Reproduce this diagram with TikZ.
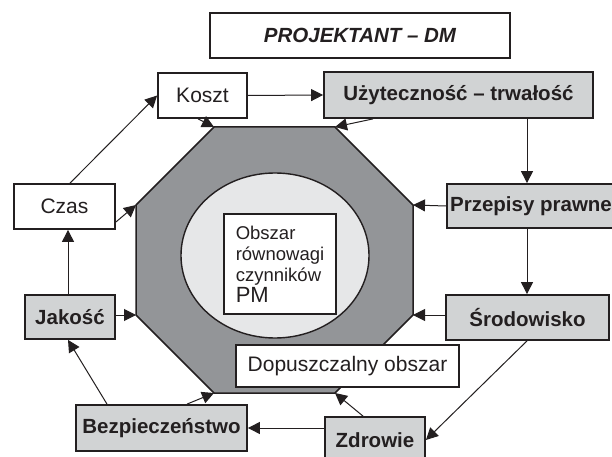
\documentclass[tikz,border=0pt]{standalone}
\usepackage{fontspec}
\setmainfont{Liberation Sans}
\usetikzlibrary{arrows.meta,shapes.geometric}
\definecolor{ink}{HTML}{231F20}
\definecolor{octgray}{HTML}{939598}
\definecolor{discgray}{HTML}{E6E7E8}
\definecolor{boxgray}{HTML}{D1D3D4}
\begin{document}
\begin{tikzpicture}[x=1bp,y=-1bp,
  every node/.style={font=\fontsize{21bp}{25bp}\selectfont, text=ink},
  plainbox/.style={draw=ink, line width=1.8bp, fill=white, inner sep=0pt},
  factorbox/.style={draw=ink, line width=1.8bp, fill=boxgray, inner sep=0pt,
    font=\fontsize{20.5bp}{24bp}\selectfont\bfseries},
  link/.style={draw=ink, line width=1bp, -{Triangle[length=12bp,width=12bp]}},
]
\useasboundingbox (0,0) rectangle (612,457);
\fill[white] (0,0) rectangle (612,457);

% octagon of the admissible region
\coordinate (o1) at (214,127);
\coordinate (o2) at (335,127);
\coordinate (o3) at (413,205);
\coordinate (o4) at (413,315);
\coordinate (o5) at (335,393);
\coordinate (o6) at (214,393);
\coordinate (o7) at (136,315);
\coordinate (o8) at (136,205);
\filldraw[fill=octgray, draw=ink, line width=1.5bp, line join=miter]
  (o1) -- (o2) -- (o3) -- (o4) -- (o5) -- (o6) -- (o7) -- (o8) -- cycle;

% equilibrium disc and its label
\node[ellipse, draw=ink, line width=1.4bp, fill=discgray,
  minimum width=188bp, minimum height=165bp] (disc) at (275,255.5) {};
\node[plainbox, minimum width=112bp, minimum height=100bp, align=left,
  font=\fontsize{18.5bp}{21bp}\selectfont] (eqbox) at (280,264)
  {Obszar\\równowagi\\czynników\\{\fontsize{22bp}{23bp}\selectfont PM}};

% title and factor boxes
\node[plainbox, minimum width=300bp, minimum height=45bp,
  font=\fontsize{20.5bp}{24bp}\selectfont\bfseries\itshape] (title) at (360,35.5)
  {PROJEKTANT – DM};
\node[plainbox, minimum width=89bp, minimum height=45bp] (koszt) at (202.5,95.5) {Koszt};
\node[factorbox, minimum width=269bp, minimum height=46bp] (uzy) at (458.5,95) {Użyteczność – trwałość};
\node[plainbox, minimum width=101bp, minimum height=45bp] (czas) at (64.5,206.5) {Czas};
\node[factorbox, minimum width=168bp, minimum height=44bp] (prz) at (531,206) {Przepisy prawne};
\node[factorbox, minimum width=90bp, minimum height=44bp] (jak) at (70,317) {Jakość};
\node[factorbox, minimum width=163bp, minimum height=45bp] (sro) at (527.5,317.5) {Środowisko};
\node[factorbox, minimum width=171bp, minimum height=46bp] (bez) at (161.5,428) {Bezpieczeństwo};
\node[factorbox, minimum width=100bp, minimum height=46bp] (zdr) at (375,440) {Zdrowie};
\node[plainbox, minimum width=223bp, minimum height=42bp] (dop) at (347.5,366) {Dopuszczalny obszar};

% anchor columns for the cycle connectors
\coordinate (colR) at (527,0);
\coordinate (colL) at (68,0);
\coordinate (kTail) at (198,0);
\coordinate (uTail) at (373,0);
\coordinate (cTop) at (70,0);
\coordinate (bTop) at (107,0);
\coordinate (bTail) at (187,0);
\coordinate (zTail) at (363,0);
\coordinate (cTail) at (0,222);

% cycle of factors
\draw[link] (koszt.east) -- (uzy.west);
\draw[link] (uzy.south -| colR) -- (prz.north -| colR);
\draw[link] (prz.south -| colR) -- (sro.north -| colR);
\draw[link] (sro.south -| colR) -- (zdr.east);
\draw[link] (zdr.west |- bez.east) -- (bez.east);
\draw[link] (bez.north -| bTop) -- (jak.south -| colL);
\draw[link] (jak.north -| colL) -- (czas.south -| colL);
\draw[link] (czas.north -| cTop) -- (koszt.west);

% every factor acts on the admissible region
\draw[link] (koszt.south -| kTail) -- (o1);
\draw[link] (uzy.south -| uTail) -- (o2);
\draw[link] (prz.west) -- (o3);
\draw[link] (sro.west |- o4) -- (o4);
\draw[link] (zdr.north -| zTail) -- (o5);
\draw[link] (bez.north -| bTail) -- (o6);
\draw[link] (jak.east |- o7) -- (o7);
\draw[link] (czas.east |- cTail) -- (o8);
\end{tikzpicture}
\end{document}
